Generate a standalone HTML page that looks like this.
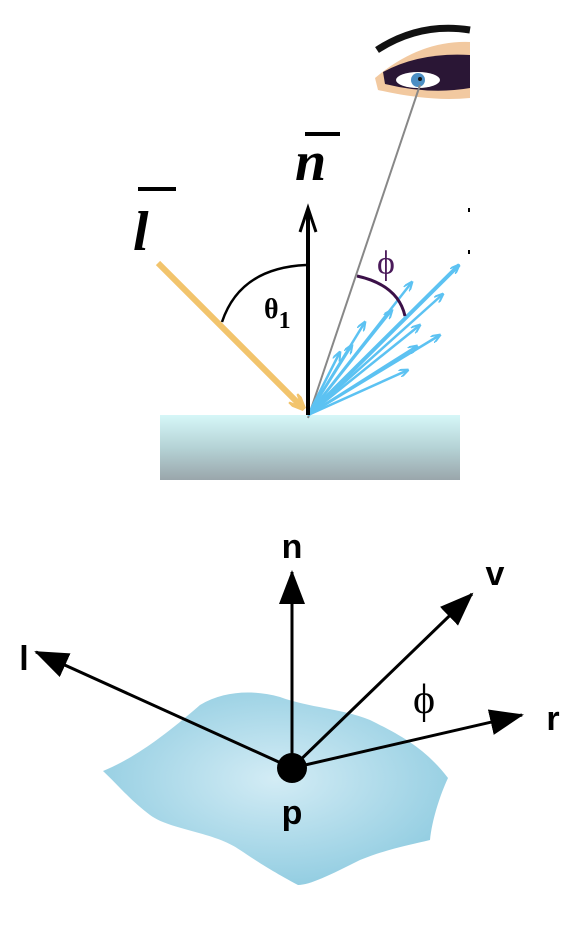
<!DOCTYPE html>
<html><head><meta charset="utf-8"><style>
html,body{margin:0;padding:0;background:#fff;width:575px;height:925px;overflow:hidden}
svg{display:block}
</style></head><body>
<svg width="575" height="925" viewBox="0 0 575 925">
<defs>
<linearGradient id="slab" x1="0" y1="0" x2="0" y2="1"><stop offset="0" stop-color="#d6f7f8"/><stop offset="0.5" stop-color="#b5d3d6"/><stop offset="1" stop-color="#9aa6ab"/></linearGradient>
<radialGradient id="blob" cx="0.5" cy="0.45" r="0.6"><stop offset="0" stop-color="#d3ecf5"/><stop offset="1" stop-color="#8ecbe0"/></radialGradient>
<marker id="big" markerWidth="34" markerHeight="26" refX="32" refY="13" orient="auto" markerUnits="userSpaceOnUse"><path d="M0,0 L34,13 L0,26 Z" fill="#000"/></marker>
<marker id="blue" markerWidth="10" markerHeight="8" refX="9" refY="4" orient="auto" markerUnits="userSpaceOnUse"><path d="M0,0 L10,4 L0,8" fill="none" stroke="#5cc2f2" stroke-width="2"/></marker>
<marker id="yel" markerWidth="16" markerHeight="14" refX="14" refY="7" orient="auto" markerUnits="userSpaceOnUse"><path d="M0,0 L16,7 L0,14" fill="none" stroke="#f2c46c" stroke-width="4"/></marker>
</defs>
<g>
<rect x="160" y="415" width="300" height="65" fill="url(#slab)"/>
<g>
<path d="M377,50 Q420,22 470,30" stroke="#111" stroke-width="7" fill="none"/>
<path d="M375,78 Q420,40 470,42 L470,98 Q430,102 378,90 Z" fill="#f2c9a0"/>
<path d="M383,72 Q420,52 470,55 L470,88 Q430,95 385,84 Z" fill="#2a1635"/>
<ellipse cx="418" cy="80" rx="22" ry="8" fill="#fff"/>
<circle cx="418" cy="80" r="7" fill="#4b8ec4"/>
<circle cx="420" cy="79" r="2" fill="#111"/>
</g>
<line x1="308" y1="418" x2="420" y2="85" stroke="#888" stroke-width="2"/>
<g stroke="#5cc2f2" stroke-width="2.5" marker-end="url(#blue)">
<line x1="308" y1="415" x2="459" y2="265" stroke-width="4"/>
<line x1="308" y1="415" x2="412" y2="282"/>
<line x1="308" y1="415" x2="443" y2="294"/>
<line x1="308" y1="415" x2="420" y2="325"/>
<line x1="308" y1="415" x2="440" y2="335"/>
<line x1="308" y1="415" x2="417" y2="346"/>
<line x1="308" y1="415" x2="408" y2="370"/>
<line x1="308" y1="415" x2="365" y2="322"/>
<line x1="308" y1="415" x2="352" y2="345"/>
<line x1="308" y1="415" x2="392" y2="310"/>
<line x1="308" y1="415" x2="340" y2="352"/>
</g>
<line x1="158" y1="263" x2="303" y2="408" stroke="#f2c46c" stroke-width="6" marker-end="url(#yel)"/>
<line x1="308" y1="415" x2="308" y2="210" stroke="#000" stroke-width="4"/>
<path d="M300,232 L308,208 L316,232" fill="none" stroke="#000" stroke-width="3"/>
<path d="M222,322 Q240,268 306,265" fill="none" stroke="#000" stroke-width="2.5"/>
<path d="M357,276 Q398,285 405,316" fill="none" stroke="#3b1048" stroke-width="3"/>
<text x="133" y="250" font-family="Liberation Serif,serif" font-style="italic" font-weight="bold" font-size="56">l</text>
<line x1="138" y1="189" x2="176" y2="189" stroke="#000" stroke-width="4"/>
<text x="295" y="180" font-family="Liberation Serif,serif" font-style="italic" font-weight="bold" font-size="56">n</text>
<line x1="305" y1="134" x2="340" y2="134" stroke="#000" stroke-width="4"/>
<text x="264" y="318" font-family="Liberation Serif,serif" font-weight="bold" font-size="28">θ<tspan font-size="24" dy="10">1</tspan></text>
<text x="377" y="274" font-family="Liberation Serif,serif" font-size="34" fill="#4a1a5a">ϕ</text>
<rect x="468" y="208" width="2" height="4" fill="#000"/><rect x="468" y="250" width="2" height="4" fill="#000"/>
</g>
<g>
<path d="M103,771 C130,760 160,740 200,705 C225,690 255,690 280,697 C310,708 340,708 370,720 C400,735 425,748 448,778 C440,795 432,820 430,840 C410,845 390,848 360,860 C330,875 310,885 298,885 C270,870 255,860 240,850 C215,832 170,830 150,815 C130,800 115,782 103,771 Z" fill="url(#blob)"/>
<g stroke="#000" stroke-width="3">
<line x1="292" y1="768" x2="292" y2="572" marker-end="url(#big)"/>
<line x1="292" y1="768" x2="472" y2="594" marker-end="url(#big)"/>
<line x1="292" y1="768" x2="36" y2="652" marker-end="url(#big)"/>
<line x1="292" y1="768" x2="522" y2="715" marker-end="url(#big)"/>
</g>
<circle cx="292" cy="768" r="15" fill="#000"/>
<g font-family="Liberation Sans,sans-serif" font-weight="bold" font-size="34">
<text x="292" y="558" text-anchor="middle">n</text>
<text x="495" y="585" text-anchor="middle">v</text>
<text x="24" y="670" text-anchor="middle">l</text>
<text x="553" y="730" text-anchor="middle">r</text>
<text x="292" y="824" text-anchor="middle">p</text>
</g>
<text x="424" y="713" text-anchor="middle" font-family="Liberation Serif,serif" font-size="42">ϕ</text>
</g>
</svg>
</body></html>
